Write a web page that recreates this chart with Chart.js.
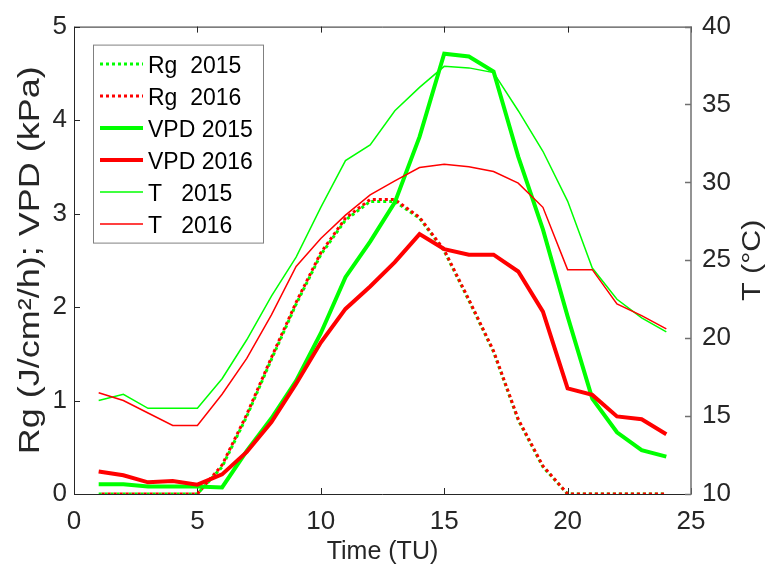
<!DOCTYPE html>
<html>
<head>
<meta charset="utf-8">
<script src="https://cdn.jsdelivr.net/npm/chart.js@4/dist/chart.umd.min.js"></script>
<style>
  html, body { margin: 0; padding: 0; background: #fff; }
</style>
</head>
<body>
<canvas id="chart" width="770" height="580"></canvas>
<script>
// hourly values
const hours = [1, 2, 3, 4, 5, 6, 7, 8, 9, 10, 11, 12, 13, 14, 15, 16, 17, 18, 19, 20, 21, 22, 23, 24];
const rg2015 = [0, 0, 0, 0, 0, 0.29, 0.83, 1.44, 2.03, 2.56, 2.93, 3.13, 3.13, 2.95, 2.60, 2.07, 1.52, 0.79, 0.29, 0, 0, 0, 0, 0];
const rg2016 = [0, 0, 0, 0, 0, 0.31, 0.85, 1.46, 2.05, 2.58, 2.95, 3.15, 3.15, 2.96, 2.61, 2.08, 1.53, 0.80, 0.30, 0, 0, 0, 0, 0];
const vpd2015 = [0.105, 0.105, 0.08, 0.08, 0.08, 0.07, 0.46, 0.81, 1.21, 1.72, 2.32, 2.70, 3.12, 3.82, 4.71, 4.68, 4.52, 3.61, 2.83, 1.90, 1.02, 0.66, 0.47, 0.40];
const vpd2016 = [0.24, 0.20, 0.125, 0.14, 0.10, 0.21, 0.45, 0.77, 1.18, 1.62, 1.98, 2.22, 2.48, 2.78, 2.62, 2.56, 2.56, 2.38, 1.95, 1.13, 1.06, 0.83, 0.80, 0.64];
const t2015 = [16.0, 16.4, 15.5, 15.5, 15.5, 17.4, 19.9, 22.7, 25.2, 28.4, 31.4, 32.4, 34.6, 36.1, 37.45, 37.35, 37.05, 34.6, 32.0, 28.8, 24.5, 22.5, 21.3, 20.4];
const t2016 = [16.5, 16.0, 15.2, 14.4, 14.4, 16.4, 18.7, 21.5, 24.6, 26.4, 27.9, 29.2, 30.1, 30.95, 31.17, 31.0, 30.7, 29.95, 28.4, 24.4, 24.4, 22.2, 21.45, 20.6];

const labels = ["Rg  2015", "Rg  2016", "VPD 2015", "VPD 2016", "T   2015", "T   2016"];
const xTicks = [0, 5, 10, 15, 20, 25];
const leftTicks = [0, 1, 2, 3, 4, 5];
const rightTicks = [10, 15, 20, 25, 30, 35, 40];

const GREEN = "#00ff00";
const RED = "#ff0000";
const INK = "#262626";
const FONT = "'Liberation Sans', Arial, Helvetica, sans-serif";

function makeSet(label, values, color, width, dash, dashOffset, axis, order) {
  return {
    label: label,
    data: hours.map((h, i) => ({ x: h, y: values[i] })),
    borderColor: color,
    backgroundColor: color,
    borderWidth: width,
    borderDash: dash,
    borderDashOffset: dashOffset,
    borderCapStyle: "butt",
    yAxisID: axis,
    pointRadius: 0,
    fill: false,
    tension: 0,
    order: order,
  };
}

// box, inward ticks and axis lines like a matlab axes
const frame = {
  id: "frame",
  beforeDatasetsDraw(chart) {
    const { ctx, chartArea: a, scales } = chart;
    const len = 6;
    ctx.save();
    ctx.lineWidth = 1;
    ctx.strokeStyle = INK;
    ctx.beginPath();
    ctx.moveTo(a.right, a.top + 0.5);
    ctx.lineTo(a.left + 0.5, a.top + 0.5);
    ctx.lineTo(a.left + 0.5, a.bottom + 0.5);
    ctx.lineTo(a.right, a.bottom + 0.5);
    xTicks.forEach((v) => {
      const px = Math.round(scales.x.getPixelForValue(v)) + 0.5;
      ctx.moveTo(px, a.bottom);
      ctx.lineTo(px, a.bottom - len);
      ctx.moveTo(px, a.top);
      ctx.lineTo(px, a.top + len);
    });
    leftTicks.forEach((v) => {
      const py = Math.round(scales.y.getPixelForValue(v)) + 0.5;
      ctx.moveTo(a.left, py);
      ctx.lineTo(a.left + len, py);
    });
    ctx.stroke();

    ctx.strokeStyle = "#707070";
    ctx.lineWidth = 1.5;
    ctx.beginPath();
    ctx.moveTo(a.right, a.top);
    ctx.lineTo(a.right, a.bottom + 1);
    rightTicks.forEach((v) => {
      const py = Math.round(scales.y2.getPixelForValue(v)) + 0.5;
      ctx.moveTo(a.right, py);
      ctx.lineTo(a.right - len, py);
    });
    ctx.stroke();
    ctx.restore();
  },
};

const boxLegend = {
  id: "boxLegend",
  afterDraw(chart) {
    const { ctx, chartArea: a } = chart;
    const x0 = a.left + 19.5;
    const y0 = a.top + 18.5;
    ctx.save();
    ctx.fillStyle = "#fff";
    ctx.fillRect(x0, y0, 170, 198);
    ctx.strokeStyle = "#808080";
    ctx.lineWidth = 1;
    ctx.strokeRect(x0, y0, 170, 198);
    ctx.font = "23px " + FONT;
    ctx.textBaseline = "middle";
    ctx.textAlign = "left";
    chart.data.datasets.forEach((ds, i) => {
      const y = y0 + 19 + i * 32;
      ctx.strokeStyle = ds.borderColor;
      ctx.lineWidth = ds.borderWidth;
      ctx.setLineDash(ds.borderDash);
      ctx.lineDashOffset = 0;
      ctx.beginPath();
      ctx.moveTo(x0 + 6.5, y);
      ctx.lineTo(x0 + 49.5, y);
      ctx.stroke();
      ctx.setLineDash([]);
      ctx.fillStyle = "#000";
      ctx.fillText(ds.label, x0 + 54.5, y + 3);
    });
    ctx.restore();
  },
};

// y titles read bottom to top, a little taller than wide
function verticalTitle(ctx, text, x, y, size, stretch) {
  ctx.save();
  ctx.translate(x, y);
  ctx.rotate(-Math.PI / 2);
  ctx.scale(stretch, 1);
  ctx.font = size + "px " + FONT;
  ctx.fillStyle = INK;
  ctx.textAlign = "center";
  ctx.textBaseline = "middle";
  ctx.fillText(text, 0, 0);
  ctx.restore();
}

const axisTitles = {
  id: "axisTitles",
  afterDraw(chart) {
    const { ctx, chartArea: a } = chart;
    const mid = (a.top + a.bottom) / 2;
    verticalTitle(ctx, "Rg (J/cm²/h); VPD (kPa)", 31, mid, 30, 1.2);
    verticalTitle(ctx, "T (°C)", 753, mid, 26, 1.17);
  },
};

const tickFont = { family: FONT, size: 26 };

new Chart(document.getElementById("chart"), {
  type: "line",
  data: {
    datasets: [
      makeSet(labels[0], rg2015, GREEN, 3, [3, 3], 0, "y", 6),
      makeSet(labels[1], rg2016, RED, 3, [3, 3], 3, "y", 5),
      makeSet(labels[2], vpd2015, GREEN, 4, [], 0, "y", 4),
      makeSet(labels[3], vpd2016, RED, 4, [], 0, "y", 3),
      makeSet(labels[4], t2015, GREEN, 1.5, [], 0, "y2", 2),
      makeSet(labels[5], t2016, RED, 1.5, [], 0, "y2", 1),
    ],
  },
  options: {
    responsive: false,
    animation: false,
    layout: { padding: { top: 17, left: 0, right: 0, bottom: 0 } },
    plugins: {
      legend: { display: false },
      tooltip: { enabled: false },
    },
    scales: {
      x: {
        type: "linear",
        min: 0,
        max: 25,
        afterBuildTicks: (s) => { s.ticks = xTicks.map((v) => ({ value: v })); },
        afterFit: (s) => { s.height = 86; },
        grid: { display: false, drawTicks: false },
        border: { display: false },
        ticks: { font: tickFont, color: INK, padding: 12, maxRotation: 0 },
        title: {
          display: true,
          text: "Time (TU)",
          font: { family: FONT, size: 25 },
          color: INK,
          padding: { top: 0, bottom: 13 },
        },
      },
      y: {
        position: "left",
        min: 0,
        max: 5,
        afterBuildTicks: (s) => { s.ticks = leftTicks.map((v) => ({ value: v })); },
        afterFit: (s) => { s.width = 74; },
        grid: { display: false, drawTicks: false },
        border: { display: false },
        ticks: { font: tickFont, color: INK, padding: 7 },
      },
      y2: {
        position: "right",
        min: 10,
        max: 40,
        afterBuildTicks: (s) => { s.ticks = rightTicks.map((v) => ({ value: v })); },
        afterFit: (s) => { s.width = 79; },
        grid: { display: false, drawTicks: false },
        border: { display: false },
        ticks: { font: tickFont, color: INK, padding: 11 },
      },
    },
  },
  plugins: [frame, boxLegend, axisTitles],
});
</script>
</body>
</html>
